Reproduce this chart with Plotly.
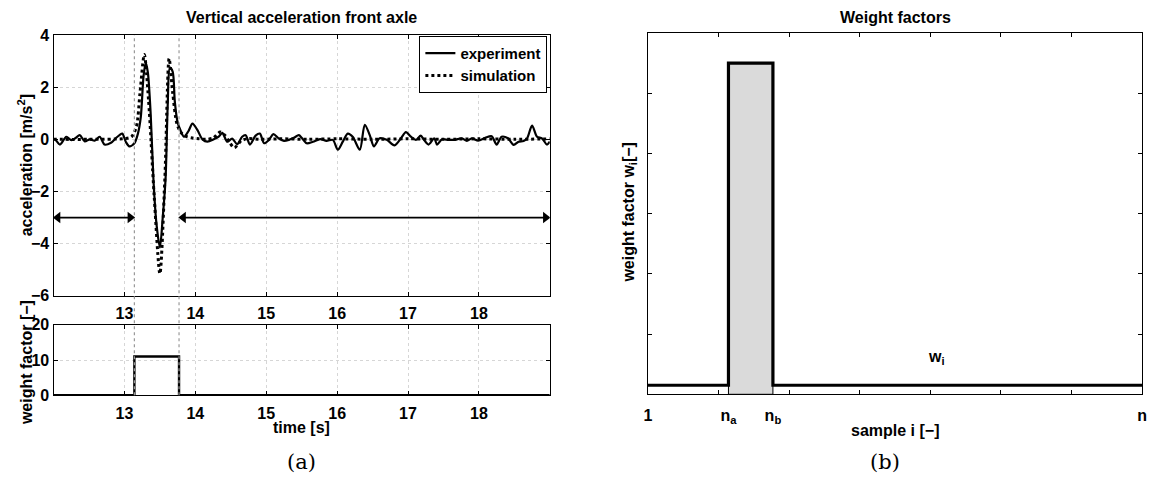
import plotly.graph_objects as go

# ---------------- data ----------------
exp_t = [12.00, 12.02, 12.09, 12.18, 12.25, 12.31, 12.37, 12.44, 12.51, 12.58, 12.65, 12.72,
         12.81, 12.88, 12.93, 12.97, 13.02, 13.07, 13.14, 13.19, 13.23, 13.27, 13.30, 13.33,
         13.37, 13.41, 13.45, 13.50, 13.54, 13.58, 13.61, 13.64, 13.68, 13.71, 13.75, 13.79,
         13.84, 13.90, 13.96, 14.03, 14.10, 14.17, 14.26, 14.33, 14.38, 14.45, 14.52, 14.59,
         14.66, 14.71, 14.77, 14.85, 14.91, 14.97, 15.04, 15.10, 15.18, 15.25, 15.32, 15.39,
         15.46, 15.50, 15.57, 15.66, 15.76, 15.85, 15.94, 16.01, 16.08, 16.15, 16.22, 16.32,
         16.39, 16.46, 16.52, 16.60, 16.70, 16.81, 16.90, 16.97, 17.04, 17.11, 17.18, 17.22,
         17.29, 17.37, 17.41, 17.48, 17.57, 17.66, 17.76, 17.83, 17.90, 17.99, 18.09, 18.18,
         18.25, 18.32, 18.41, 18.49, 18.56, 18.63, 18.68, 18.75, 18.82, 18.89, 18.96, 19.00]
exp_a = [0.00, 0.00, -0.20, 0.10, -0.03, 0.05, 0.16, -0.08, 0.00, -0.05, 0.10, -0.20,
         -0.13, 0.05, 0.16, 0.22, -0.10, -0.27, -0.15, 0.22, 0.84, 2.44, 2.94, 2.57,
         0.96, -1.60, -3.20, -4.15, -3.00, -1.50, 1.30, 2.75, 2.60, 1.46, 0.65, 0.35,
         0.10, 0.30, 0.60, 0.35, 0.00, -0.09, 0.00, 0.10, 0.25, -0.09, 0.03, -0.19,
         0.10, 0.16, -0.20, 0.14, 0.22, -0.15, -0.02, 0.20, 0.03, -0.06, -0.02, 0.06,
         0.16, 0.06, -0.15, -0.09, 0.01, -0.06, -0.02, -0.40, -0.09, 0.22, 0.10, -0.40,
         0.56, 0.16, -0.27, 0.04, -0.02, -0.23, 0.04, 0.28, 0.10, -0.02, 0.14, 0.00,
         -0.20, 0.04, -0.20, 0.00, -0.02, -0.02, 0.04, -0.06, 0.04, -0.05, 0.06, 0.12,
         -0.20, 0.10, 0.04, -0.21, -0.09, -0.06, 0.04, 0.53, 0.10, 0.04, -0.20, -0.09]

sim_t = [12.0, 12.5, 13.0, 13.1, 13.17, 13.22, 13.28, 13.34, 13.42, 13.50, 13.57, 13.63,
         13.68, 13.74, 13.80, 13.88, 13.96, 14.05, 14.15, 14.25, 14.35, 14.42, 14.48, 14.55,
         14.65, 14.75, 14.9, 15.2, 15.6, 16.0, 16.5, 17.0, 17.5, 18.0, 18.5, 19.0]
sim_a = [0.0, 0.0, 0.03, 0.1, 0.5, 1.8, 3.25, 1.5, -2.2, -5.15, -1.5, 3.1,
         1.8, 0.6, 0.25, 0.1, 0.05, 0.02, 0.0, 0.05, 0.28, 0.15, -0.1, -0.32,
         -0.05, 0.03, 0.0, 0.02, 0.0, 0.02, 0.0, 0.02, 0.0, 0.02, 0.0, 0.02]

window_start = 13.14
window_end = 13.77
t_min, t_max = 12.0, 19.0
arrow_level = -3.0

wf_t = [12.0, 13.14, 13.14, 13.77, 13.77, 19.0]
wf_v = [0, 0, 11, 11, 0, 0]

time_ticks = [13, 14, 15, 16, 17, 18]
acc_ticks = [-6, -4, -2, 0, 2, 4]
wf_ticks = [0, 10, 20]

# right panel (schematic)
sample_x = [0, 1.14, 1.14, 1.77, 1.77, 7]
sample_w = [0.15, 0.15, 5.5, 5.5, 0.15, 0.15]
bar_x = [1.14, 1.14, 1.77, 1.77, 1.14]
bar_y = [0, 5.5, 5.5, 0, 0]
sample_tickvals = [0, 1.14, 1.77, 7]
sample_ticktext = ["1", "n<sub>a</sub>", "n<sub>b</sub>", "n"]
sample_minor = [1, 2, 3, 4, 5, 6]
w_minor = [1, 2, 3, 4, 5]
wi_label_pos = (4.09, 0.42)

# ---------------- figure ----------------
FONT = "Liberation Sans"
bold = dict(family=FONT, size=16, color="black", weight="bold")
bold_leg = dict(family=FONT, size=15, color="black", weight="bold")

fig = go.Figure()

fig.add_trace(go.Scatter(x=exp_t, y=exp_a, mode="lines", name="experiment",
                         line=dict(color="black", width=2.2, shape="spline", smoothing=0.8),
                         xaxis="x", yaxis="y"))
fig.add_trace(go.Scatter(x=sim_t, y=sim_a, mode="lines", name="simulation",
                         line=dict(color="black", width=3, dash="dot", shape="spline", smoothing=0.8),
                         xaxis="x", yaxis="y"))

# double-headed arrows marking the regions outside the window
pad = 0.06
for a0, a1 in ((t_min, window_start), (window_end, t_max)):
    fig.add_trace(go.Scatter(x=[a0 + pad, a1 - pad], y=[arrow_level, arrow_level],
                             mode="lines+markers", showlegend=False, hoverinfo="skip",
                             line=dict(color="black", width=1.8),
                             marker=dict(symbol=["triangle-left", "triangle-right"], size=10,
                                         color="black"),
                             xaxis="x", yaxis="y"))

fig.add_trace(go.Scatter(x=wf_t, y=wf_v, mode="lines", showlegend=False,
                         line=dict(color="black", width=2.4), xaxis="x2", yaxis="y2"))
fig.add_trace(go.Scatter(x=bar_x, y=bar_y, mode="lines", fill="toself", showlegend=False,
                         fillcolor="#dadada", line=dict(color="black", width=1),
                         xaxis="x3", yaxis="y3"))
fig.add_trace(go.Scatter(x=sample_x, y=sample_w, mode="lines", showlegend=False,
                         line=dict(color="black", width=3.2), xaxis="x3", yaxis="y3"))

common_axis = dict(showline=True, linecolor="black", linewidth=1.2, mirror="ticks",
                   ticks="inside", ticklen=4, tickcolor="black", zeroline=False,
                   tickfont=bold)
grid = dict(showgrid=True, gridcolor="#d6d6d6", griddash="dot", gridwidth=1)

fig.update_layout(
    width=1159, height=497,
    margin=dict(l=0, r=0, t=0, b=0),
    paper_bgcolor="white", plot_bgcolor="white",
    xaxis=dict(domain=[0.0431, 0.4746], anchor="y", range=[t_min, t_max],
               tickvals=time_ticks, ticklabelstandoff=3, **common_axis, **grid),
    yaxis=dict(domain=[0.4004, 0.9437], anchor="x", range=[-6, 4],
               tickvals=acc_ticks, **common_axis, **grid),
    xaxis2=dict(domain=[0.0431, 0.4746], anchor="y2", range=[t_min, t_max],
                tickvals=time_ticks, ticklabelstandoff=3, **common_axis, **grid),
    yaxis2=dict(domain=[0.1932, 0.3400], anchor="x2", range=[0, 20],
                tickvals=wf_ticks, **common_axis, **grid),
    xaxis3=dict(domain=[0.560, 0.9896], anchor="y3", range=[0, 7],
                tickvals=sample_tickvals, ticktext=sample_ticktext, ticklabelstandoff=6,
                showline=True, linecolor="black", linewidth=1.2, mirror="ticks",
                ticks="", zeroline=False, showgrid=False, tickfont=bold,
                minor=dict(tickvals=sample_minor, ticks="inside", ticklen=4,
                           tickcolor="black", showgrid=False)),
    yaxis3=dict(domain=[0.1952, 0.9477], anchor="x3", range=[0, 6],
                tickvals=w_minor, showticklabels=False,
                showline=True, linecolor="black", linewidth=1.2, mirror="ticks",
                ticks="inside", ticklen=4, tickcolor="black", zeroline=False, showgrid=False),
    legend=dict(x=0.4725, y=0.942, xanchor="right", yanchor="top",
                bgcolor="white", bordercolor="black", borderwidth=1,
                font=bold_leg, tracegroupgap=0, itemwidth=30),
    showlegend=True,
)

# dotted window markers spanning both left panels
for xv in (window_start, window_end):
    fig.add_shape(type="line", xref="x", yref="paper", x0=xv, x1=xv, y0=0.1932, y1=0.9437,
                  line=dict(color="#9a9a9a", width=1.2, dash="dot"))

ann = [
    dict(text="<b>Vertical acceleration front axle</b>", x=0.259, y=0.98),
    dict(text="<b>Weight factors</b>", x=0.775, y=0.98),
    dict(text="<b>time [s]</b>", x=0.259, y=0.126),
    dict(text="<b>sample i [−]</b>", x=0.775, y=0.120),
]
for a in ann:
    fig.add_annotation(xref="paper", yref="paper", showarrow=False,
                       font=bold, xanchor="center", yanchor="middle", **a)

for text, x, y in (("<b>acceleration [m/s<sup>2</sup>]</b>", 0.019, 0.672),
                   ("<b>weight factor [−]</b>", 0.019, 0.262),
                   ("<b>weight factor w<sub>i</sub>[−]</b>", 0.5436, 0.574)):
    fig.add_annotation(xref="paper", yref="paper", x=x, y=y, text=text, showarrow=False,
                       textangle=-90, font=bold, xanchor="center", yanchor="middle")

fig.add_annotation(xref="x3", yref="y3", x=wi_label_pos[0], y=wi_label_pos[1],
                   text="<b>w<sub>i</sub></b>", showarrow=False, font=bold,
                   xanchor="center", yanchor="bottom")

for text, x in (("(a)", 0.259), ("(b)", 0.766)):
    fig.add_annotation(xref="paper", yref="paper", x=x, y=0.054, text=text, showarrow=False,
                       font=dict(family="DejaVu Serif", size=21, color="black"),
                       xanchor="center", yanchor="middle")

fig.write_html("out.html")
